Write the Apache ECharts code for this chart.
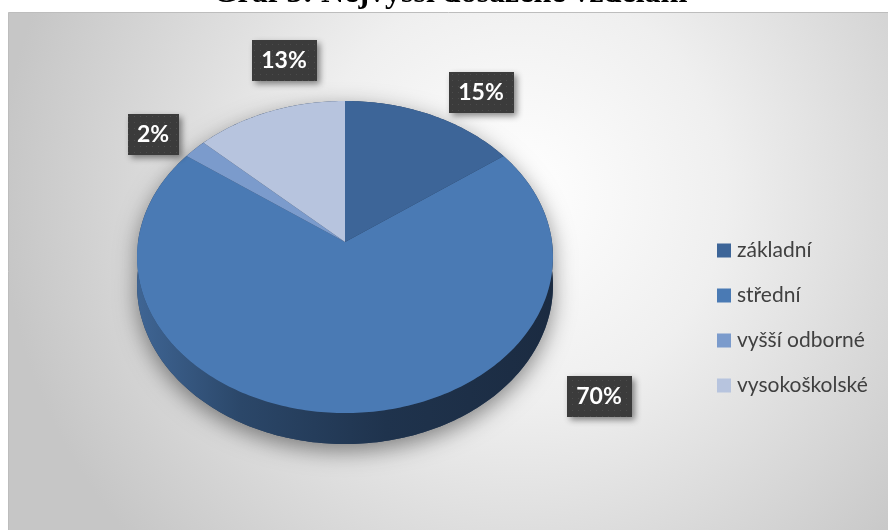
<!DOCTYPE html>
<html>
<head>
<meta charset="utf-8">
<script src="https://cdn.jsdelivr.net/npm/echarts@6.0.0/dist/echarts.min.js"></script>
<style>
  html, body { margin: 0; padding: 0; background: #ffffff; }
  #chart { width: 888px; height: 530px; }
</style>
</head>
<body>
<div id="chart"></div>
<script>
// Education levels and their shares (percent)
const categories = ['základní', 'střední', 'vyšší odborné', 'vysokoškolské'];
const shares = [15, 70, 2, 13];
const titleText = 'Graf 3: Nejvyšší dosažené vzdělání';

// Styling
const sliceColors = ['#3d6598', '#4a7ab4', '#7b9bcc', '#b7c4de'];
// Tilted pie geometry: centre, radii, perspective strength, wall depth
const PIE = { cx: 345, cy: 242, rx: 207, ry: 154.6, k: 0.0961, depth: 28 };
// Label box centres, relative to the pie centre
const labelOffsets = [[136, -150], [254, 154], [-192, -108], [-61, -182]];
const LABEL_FONT = 'bold 23px Lato';

const total = shares.reduce((a, b) => a + b, 0);

// Project a rim point at angle theta (clockwise from 12 o'clock) onto the screen
function proj(theta, drop) {
  const u = Math.sin(theta), v = -Math.cos(theta);
  const p = 1 / (1 - PIE.k * v);
  return [PIE.cx + PIE.rx * u * p, PIE.cy + PIE.ry * v * p + drop * p];
}
function arc(a0, a1, drop) {
  const pts = [];
  const n = Math.max(2, Math.ceil(Math.abs(a1 - a0) / (Math.PI / 180)));
  for (let i = 0; i <= n; i++) pts.push(proj(a0 + (a1 - a0) * i / n, drop));
  return pts;
}

// Dotted dark fill for the label boxes
const tile = document.createElement('canvas');
tile.width = 6; tile.height = 6;
const tg = tile.getContext('2d');
tg.fillStyle = '#3b3b3b'; tg.fillRect(0, 0, 6, 6);
tg.fillStyle = '#4c4c4c'; tg.fillRect(2, 2, 1, 1);

const measureCtx = document.createElement('canvas').getContext('2d');
measureCtx.font = LABEL_FONT;

function makeRender(idx) {
  return function (params, api) {
    const start = shares.slice(0, idx).reduce((a, b) => a + b, 0);
    const val = api.value(0);
    const a0 = start / total * 2 * Math.PI;
    const a1 = (start + val) / total * 2 * Math.PI;
    const color = api.visual('color');
    const children = [];

    // Front wall: the part of this slice's rim that faces the viewer
    const f0 = Math.max(a0, Math.PI / 2), f1 = Math.min(a1, 1.5 * Math.PI);
    if (f1 > f0) {
      const silhouette = arc(-Math.PI / 2, Math.PI / 2, 0).concat(arc(Math.PI / 2, 1.5 * Math.PI, PIE.depth));
      children.push({
        type: 'polygon',
        shape: { points: silhouette },
        style: { fill: '#2a3f5c', shadowBlur: 22, shadowColor: 'rgba(0,0,0,0.45)', shadowOffsetY: 7 }
      });
      const wall = arc(f0, f1, 0).concat(arc(f1, f0, PIE.depth));
      children.push({
        type: 'polygon',
        shape: { points: wall },
        style: {
          fill: new echarts.graphic.LinearGradient(0, 0, 1, 0, [
            { offset: 0, color: '#3f6594' },
            { offset: 0.25, color: '#2b4769' },
            { offset: 0.6, color: '#1f334d' },
            { offset: 1, color: '#1b2b41' }
          ])
        }
      });
    }

    // Top face of the slice
    children.push({
      type: 'polygon',
      shape: { points: [[PIE.cx, PIE.cy]].concat(arc(a0, a1, 0)) },
      style: { fill: color }
    });

    // Percentage label
    const text = val + '%';
    const w = Math.round(measureCtx.measureText(text).width + 19);
    const h = 41;
    const lx = PIE.cx + labelOffsets[idx][0];
    const ly = PIE.cy + labelOffsets[idx][1];
    children.push({
      type: 'rect',
      shape: { x: Math.round(lx - w / 2), y: Math.round(ly - h / 2), width: w, height: h },
      style: {
        fill: { image: tile, repeat: 'repeat' },
        shadowBlur: 6, shadowColor: 'rgba(0,0,0,0.45)', shadowOffsetX: 3, shadowOffsetY: 3
      }
    });
    children.push({
      type: 'text',
      style: {
        text: text, x: lx, y: ly + 1, fill: '#ffffff', font: LABEL_FONT,
        align: 'center', verticalAlign: 'middle'
      }
    });
    return { type: 'group', children: children };
  };
}

const chart = echarts.init(document.getElementById('chart'), null, { renderer: 'canvas' });

chart.setOption({
  animation: false,
  graphic: [
    {
      type: 'rect', z: 0,
      shape: { x: 8.5, y: 12.5, width: 880, height: 518 },
      style: {
        fill: new echarts.graphic.RadialGradient(0.58, 0.35, 1.0, [
          { offset: 0, color: '#ffffff' },
          { offset: 0.4, color: '#efefef' },
          { offset: 1, color: '#c6c6c6' }
        ]),
        stroke: '#bdbdbd', lineWidth: 1
      }
    },
    {
      type: 'text', z: 1, x: 450, y: -6,
      style: {
        text: titleText, fill: '#000000',
        font: 'bold 32px "Liberation Serif"', align: 'center', verticalAlign: 'middle'
      }
    }
  ],
  legend: {
    orient: 'vertical', left: 717, top: 240, padding: 0,
    itemWidth: 14, itemHeight: 14, itemGap: 24, icon: 'rect',
    data: categories,
    textStyle: { fontFamily: 'Lato', fontSize: 21, color: '#404040', lineHeight: 21, padding: [0, 0, 0, 1] }
  },
  series: categories.map((name, i) => ({
    type: 'custom',
    name: name,
    coordinateSystem: 'none',
    z: i === 1 ? 1 : 2,
    itemStyle: { color: sliceColors[i] },
    renderItem: makeRender(i),
    data: [[shares[i]]]
  }))
});
</script>
</body>
</html>
